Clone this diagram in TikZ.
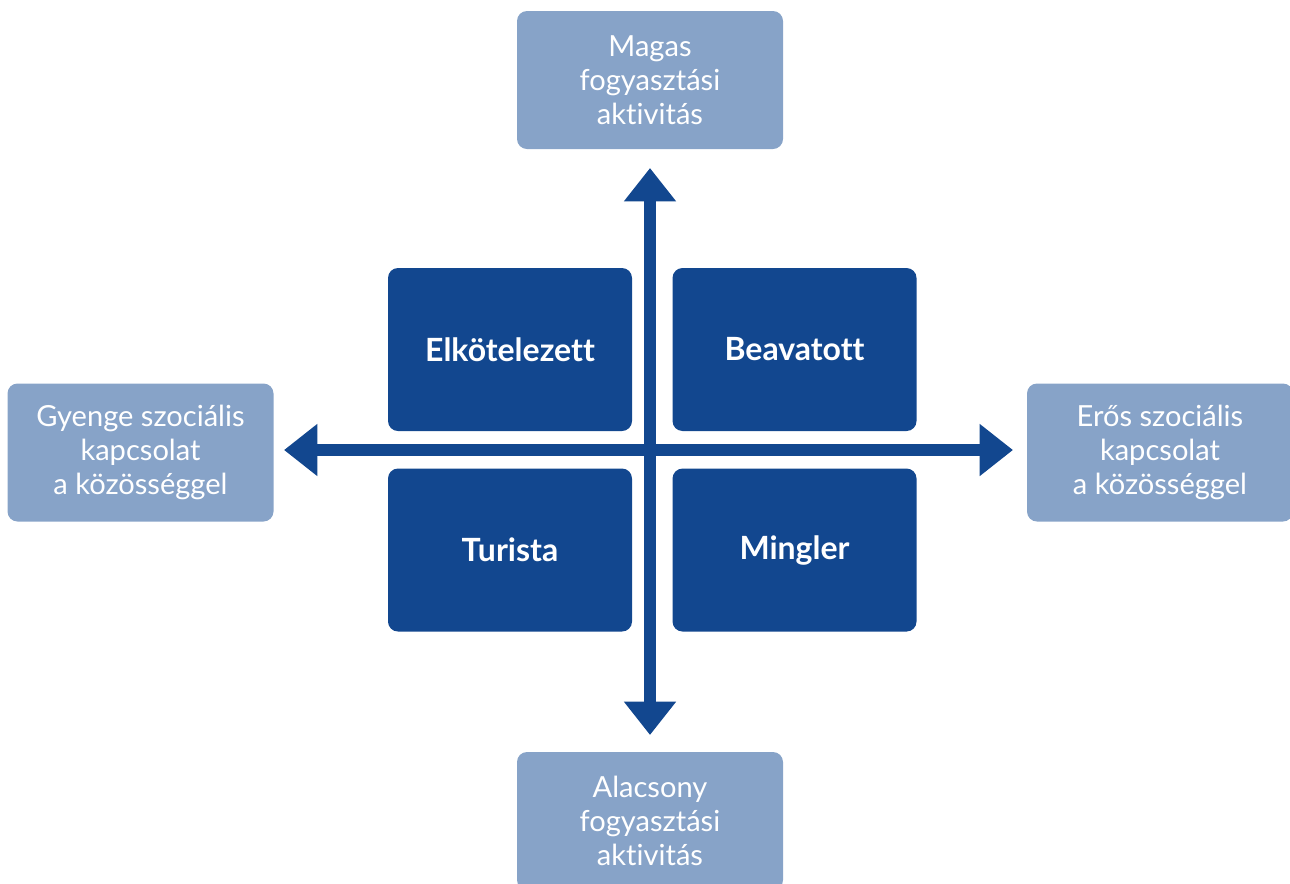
\documentclass[tikz,border=0pt]{standalone}
\usepackage{fontspec}
\setmainfont{Lato}[Ligatures=NoCommon]
\usepackage{xcolor}
\usepackage{tikz}
\usetikzlibrary{arrows.meta}
\usetikzlibrary{positioning}
\definecolor{darkBlue}{RGB}{18,71,143}
\definecolor{lightBlue}{RGB}{135,163,200}
\tikzset{%
  >={Triangle[width=37.5pt,length=25pt]},
  % Specifications for style of nodes:
  base/.style = {rectangle, rounded corners=7.5pt, draw=none,
    text=white, align=center, inner sep=0pt},
  axisLabel/.style = {base, fill=lightBlue,
    minimum width=199.5pt, minimum height=103.5pt,
    font=\fontsize{21.8}{25.5}\selectfont},
  segment/.style = {base, fill=darkBlue,
    minimum width=183pt, minimum height=122.25pt,
    font=\fontsize{24}{28}\selectfont\bfseries},
  axis/.style = {<->, draw=darkBlue, fill=darkBlue, line width=9pt},
}

\begin{document}
\begin{tikzpicture}[x=0.75pt, y=-0.75pt]
        \useasboundingbox (0,0) rectangle (1290,883);
        % Specification of nodes (position, etc.)
        \node(Elk)[segment] at (510,349.5){Elkötelezett};
        \node(Bea)[segment, right=30pt of Elk]{Beavatott};
        \node(Tur)[segment, below=27.75pt of Elk]{Turista};
        \node(Min)[segment, below=27.75pt of Bea]{Mingler};
        \node(High)[axisLabel] at (650,80){Magas \\ fogyasztási \\ aktivitás};
        \node(Low)[axisLabel] at (650,821){Alacsony \\ fogyasztási \\ aktivitás};
        \node(Weak)[axisLabel] at (140.5,452.5){Gyenge szociális \\ kapcsolat \\ a közösséggel};
        \node(Strong)[axisLabel] at (1160,452.5){Erős szociális \\ kapcsolat \\ a közösséggel};
        % axis end points
        \coordinate(vTop) at (650,168);
        \coordinate(vBot) at (650,735);
        \coordinate(hLeft) at (284,450);
        \coordinate(hRight) at (1013,450);
        \draw[axis](vBot) -- (vTop);
        \draw[axis](hLeft) -- (hRight);
    \end{tikzpicture}
\end{document}
